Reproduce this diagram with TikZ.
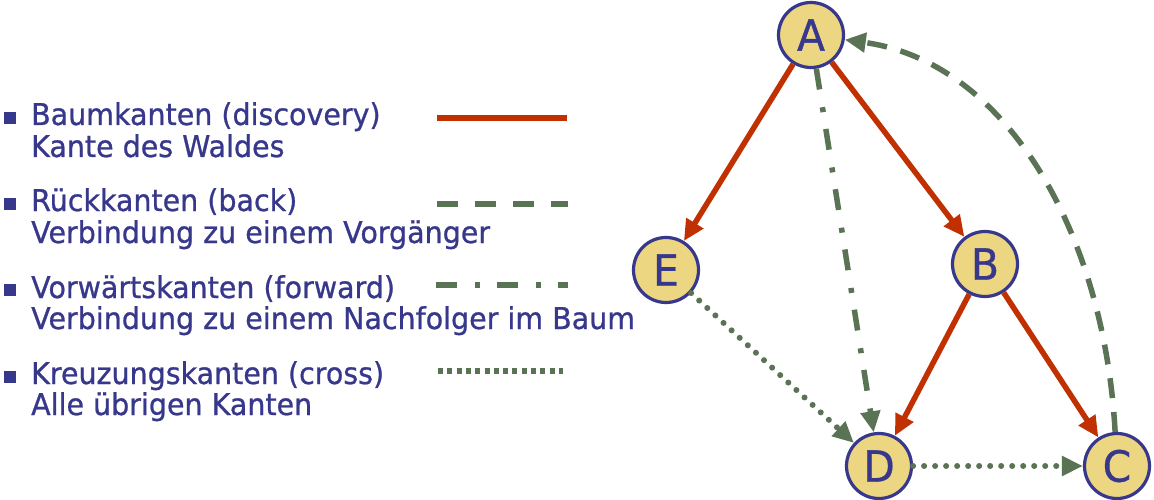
\documentclass[tikz,border=0pt]{standalone}
\usepackage{fontspec}
\setmainfont{DejaVu Sans}[FakeStretch=0.95,FakeBold=0.8]
\usetikzlibrary{arrows.meta}
\definecolor{txtblue}{RGB}{55,55,140}
\definecolor{nodefill}{RGB}{236,214,130}
\definecolor{treered}{RGB}{192,48,0}
\definecolor{edgegreen}{RGB}{90,115,85}
\begin{document}
\begin{tikzpicture}[x=1pt,y=-1pt,
  vertex/.style={circle, draw=txtblue, line width=3.2pt, fill=nodefill,
    minimum size=65pt, inner sep=0pt, text=txtblue,
    font=\fontsize{43}{43}\selectfont},
  legendtext/.style={anchor=base west, text=txtblue,
    font=\fontsize{30}{32}\selectfont, inner sep=0pt},
  bulletsq/.style={fill=txtblue, minimum size=11.5pt, inner sep=0pt},
  tip/.style={-{Triangle[length=21pt,width=19pt]}},
  treeedge/.style={draw=treered, line width=5.5pt},
  backedge/.style={draw=edgegreen, line width=5.5pt, dash pattern=on 20pt off 14pt},
  fwdedge/.style={draw=edgegreen, line width=5.5pt, dash pattern=on 21pt off 18pt on 5pt off 17pt},
  crossedge/.style={draw=edgegreen, line width=6pt, line cap=round, dash pattern=on 0.01pt off 11pt},
  crosslegend/.style={draw=edgegreen, line width=5.5pt, dash pattern=on 5pt off 4.3pt},
]
\useasboundingbox[fill=white] (0,0) rectangle (1154,500);

% legend bullets
\node[bulletsq] (b1) at (10,118) {};
\node[bulletsq] (b2) at (10,204) {};
\node[bulletsq] (b3) at (10,290) {};
\node[bulletsq] (b4) at (10,377) {};

% legend texts
\node[legendtext] (t1a) at (31,125) {Baumkanten (discovery)};
\node[legendtext] (t1b) at (31,157) {Kante des Waldes};
\node[legendtext] (t2a) at (31,211) {Rückkanten (back)};
\node[legendtext] (t2b) at (31,243) {Verbindung zu einem Vorgänger};
\node[legendtext] (t3a) at (31,298) {Vorwärtskanten (forward)};
\node[legendtext] (t3b) at (31,329) {Verbindung zu einem Nachfolger im Baum};
\node[legendtext] (t4a) at (31,384) {Kreuzungskanten (cross)};
\node[legendtext] (t4b) at (31,415) {Alle übrigen Kanten};

% legend samples
\coordinate (l1a) at (437,118); \coordinate (l1b) at (567,118);
\coordinate (l2a) at (437,204); \coordinate (l2b) at (568,204);
\coordinate (l3a) at (436,285); \coordinate (l3b) at (568,285);
\coordinate (l4a) at (438,371); \coordinate (l4b) at (563,371);
\draw[treeedge] (l1a) -- (l1b);
\draw[backedge, dash pattern=on 21pt off 17pt] (l2a) -- (l2b);
\draw[fwdedge] (l3a) -- (l3b);
\draw[crosslegend] (l4a) -- (l4b);

% graph
\node[vertex] (A) at (811,35) {A};
\node[vertex] (E) at (666,270) {E};
\node[vertex] (B) at (985,264) {B};
\node[vertex] (D) at (879,466) {D};
\node[vertex] (C) at (1117,466) {C};

\draw[treeedge, tip] (A) -- (E);
\draw[treeedge, tip] (A) -- (B);
\draw[treeedge, tip] (B) -- (D);
\draw[treeedge, tip] (B) -- (C);
\draw[fwdedge, tip] (A) -- (D);
\draw[backedge, tip] (C) .. controls (1104,230) and (1005,62) .. (A);
\draw[crossedge, tip] (E) -- (D);
\draw[crossedge, tip] (D) -- (C);
\end{tikzpicture}
\end{document}
